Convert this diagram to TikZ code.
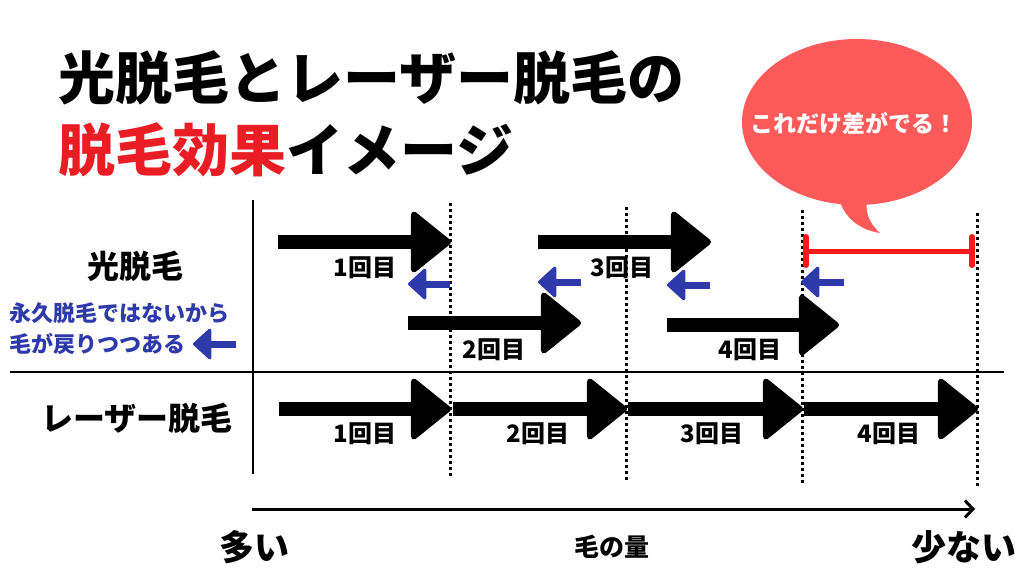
\documentclass[tikz,border=0pt]{standalone}
\usepackage{fontspec}
\usepackage{xcolor}
\usepackage{tikz}
\usetikzlibrary{positioning, arrows.meta, shapes.geometric}
\newfontfamily\jp{Noto Sans CJK JP}
\definecolor{jpblue}{RGB}{46,58,170}
\definecolor{titlered}{RGB}{234,28,36}
\definecolor{gapred}{RGB}{255,24,24}
\definecolor{bubblered}{RGB}{255,90,90}

\begin{document}
\begin{tikzpicture}[
    x=1pt, y=-1pt,
    bigarrow/.style={line width=14pt, -{Triangle[length=42pt,width=66pt,round,line width=6pt]}},
    backarrow/.style={draw=jpblue, line width=7pt, -{Triangle[length=19pt,width=34pt,round,line width=3pt]}},
    guide/.style={line width=3pt, dash pattern=on 3pt off 3pt},
    gapbar/.style={draw=gapred, line width=5pt, {Bar[width=28pt,line width=6pt,round]}-{Bar[width=28pt,line width=6pt,round]}},
    count/.style={font=\jp\bfseries\fontsize{24}{26}\selectfont, inner sep=0pt},
    rowlabel/.style={font=\jp\bfseries\fontsize{32}{34}\selectfont, inner sep=0pt},
    note/.style={font=\jp\bfseries\fontsize{22}{24}\selectfont, text=jpblue, inner sep=0pt, anchor=west},
    title/.style={font=\jp\bfseries\fontsize{57}{60}\selectfont, inner sep=0pt, anchor=west}
    ]
    \fill[white] (0,0) rectangle (1024,576);
    \useasboundingbox (0,0) rectangle (1024,576);

    % title
    \node[title] (title1) at (58,78) {光脱毛とレーザー脱毛の};
    \node[title] (title2) at (58,150) {{\color{titlered}脱毛効果}イメージ};

    % speech bubble
    \node[ellipse, fill=bubblered, minimum width=230pt, minimum height=166pt, inner sep=0pt] (bubble) at (857,122) {};
    \fill[bubblered] (838,195) .. controls (843,218) and (860,230) .. (880,233)
        .. controls (868,222) and (864,210) .. (868,195) -- cycle;
    \node[font=\jp\bfseries\fontsize{23}{25}\selectfont, text=white, inner sep=0pt] (gaptext) at (854,123) {これだけ差がでる！};

    % frame
    \draw[line width=2.5pt] (253,200) -- (253,474);
    \draw[line width=2.5pt] (10,372) -- (1004,372);

    % guides
    \draw[guide] (450,203) -- (450,478);
    \draw[guide] (626,207) -- (626,481);
    \draw[guide] (802,210) -- (802,484);
    \draw[guide] (977,213) -- (977,487);

    % row labels
    \node[rowlabel] (light) at (135,266) {光脱毛};
    \node[rowlabel] (laser) at (137,418) {レーザー脱毛};
    \node[note] (note1) at (9,313) {永久脱毛ではないから};
    \node[note] (note2) at (9,344) {毛が戻りつつある};
    \coordinate (note2r) at (236,344);
    \coordinate (note2l) at (193,344);
    \draw[backarrow] (note2r) -- (note2l);

    % light: forward steps
    \coordinate (l1s) at (278,242);  \coordinate (l1e) at (451,242);
    \coordinate (l2s) at (408,323);  \coordinate (l2e) at (581,323);
    \coordinate (l3s) at (538,242);  \coordinate (l3e) at (711,242);
    \coordinate (l4s) at (667,325);  \coordinate (l4e) at (839,325);
    \draw[bigarrow] (l1s) -- (l1e);
    \draw[bigarrow] (l2s) -- (l2e);
    \draw[bigarrow] (l3s) -- (l3e);
    \draw[bigarrow] (l4s) -- (l4e);
    \node[count] (lc1) at (365,268) {1回目};
    \node[count] (lc2) at (494,350) {2回目};
    \node[count] (lc3) at (622,268) {3回目};
    \node[count] (lc4) at (750,350) {4回目};

    % light: hair coming back
    \coordinate (b1s) at (450,284);  \coordinate (b1e) at (408,284);
    \coordinate (b2s) at (581,282);  \coordinate (b2e) at (538,282);
    \coordinate (b3s) at (710,285);  \coordinate (b3e) at (667,285);
    \coordinate (b4s) at (844,282);  \coordinate (b4e) at (801,282);
    \draw[backarrow] (b1s) -- (b1e);
    \draw[backarrow] (b2s) -- (b2e);
    \draw[backarrow] (b3s) -- (b3e);
    \draw[backarrow] (b4s) -- (b4e);

    % gap
    \coordinate (gapl) at (803,251);
    \coordinate (gapr) at (975,251);
    \draw[gapbar] (gapl) -- (gapr);

    % laser steps
    \coordinate (r0) at (279,409);
    \coordinate (r1) at (451,409);
    \coordinate (r1b) at (453,409);
    \coordinate (r2) at (627,409);
    \coordinate (r2b) at (628,409);
    \coordinate (r3) at (803,409);
    \coordinate (r3b) at (804,409);
    \coordinate (r4) at (978,409);
    \draw[bigarrow] (r0) -- (r1);
    \draw[bigarrow] (r1b) -- (r2);
    \draw[bigarrow] (r2b) -- (r3);
    \draw[bigarrow] (r3b) -- (r4);
    \node[count] (rc1) at (365,434) {1回目};
    \node[count] (rc2) at (538,434) {2回目};
    \node[count] (rc3) at (712,434) {3回目};
    \node[count] (rc4) at (889,434) {4回目};

    % amount axis
    \coordinate (axl) at (252,509);
    \coordinate (axr) at (975,509);
    \draw[line width=3pt, -{Straight Barb[length=8pt,width=17pt,line width=3pt]}] (axl) -- (axr);
    \node[font=\jp\bfseries\fontsize{35}{37}\selectfont, inner sep=0pt] (many) at (254,547) {多い};
    \node[font=\jp\bfseries\fontsize{25}{27}\selectfont, inner sep=0pt] (amount) at (612,547) {毛の量};
    \node[font=\jp\bfseries\fontsize{35}{37}\selectfont, inner sep=0pt] (few) at (964,547) {少ない};
\end{tikzpicture}
\end{document}
